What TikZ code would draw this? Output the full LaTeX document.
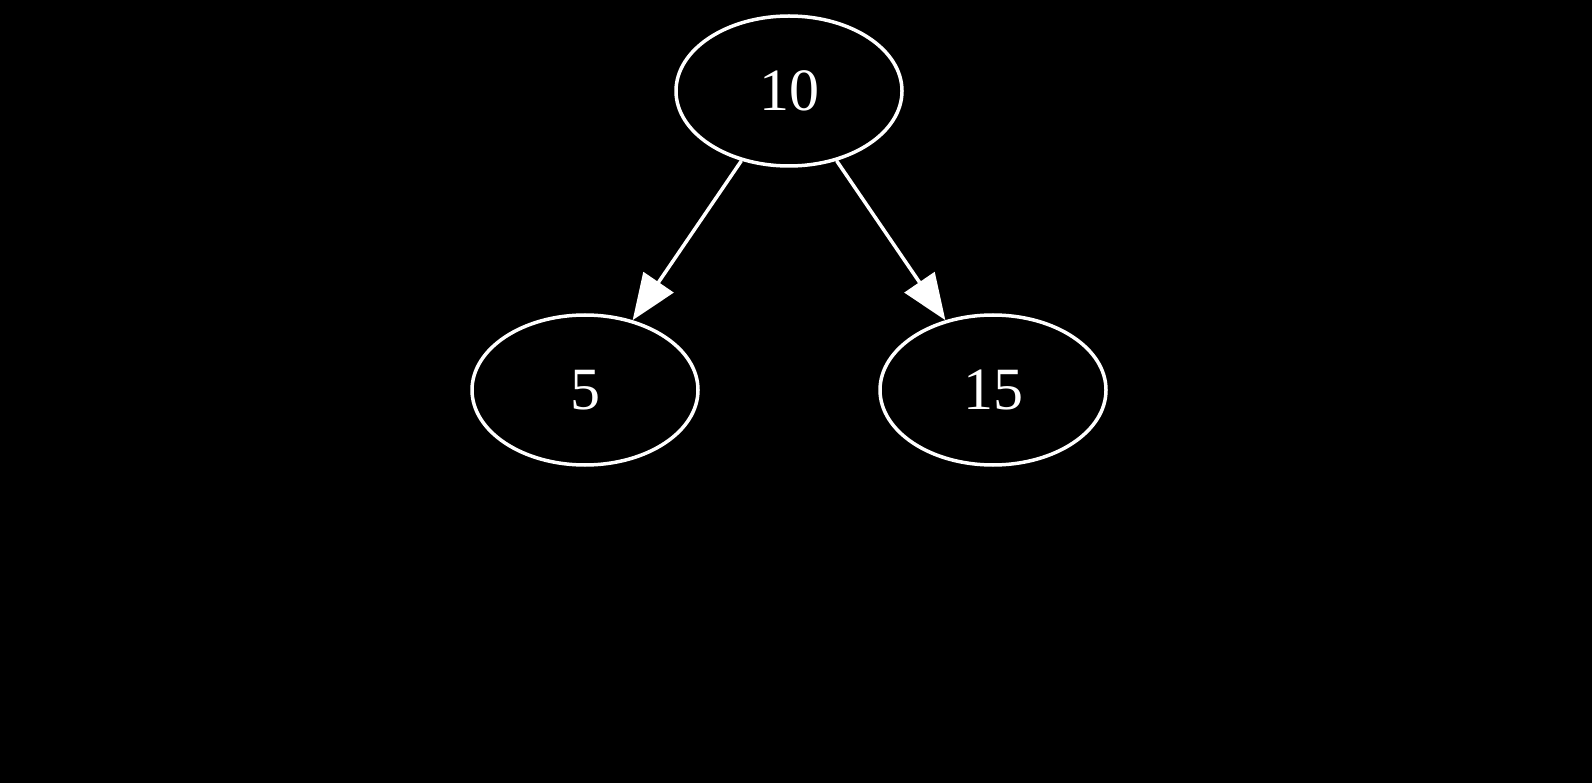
\documentclass[tikz,border=0pt]{standalone}
\usepackage{fontspec}
\setmainfont{Liberation Serif}
\usetikzlibrary{shapes.geometric,arrows.meta}
\begin{document}
\begin{tikzpicture}[x=1pt,y=-1pt,
  treenode/.style={ellipse,draw=white,line width=3.5pt,fill=black,
    minimum width=226pt,minimum height=150pt,inner sep=0pt,
    text=white,font=\fontsize{60}{62}\selectfont},
  treeedge/.style={draw=white,line width=3.5pt,
    -{Triangle[length=46pt,width=36pt,fill=white]}}]
  \fill[black] (0,0) rectangle (1592,783);
  \useasboundingbox (0,0) rectangle (1592,783);
  \node[treenode] (n10) at (789,91) {\raisebox{-3pt}{10}};
  \node[treenode] (n5)  at (585,390) {\raisebox{-3pt}{5}};
  \node[treenode] (n15) at (993,390) {\raisebox{-3pt}{15}};
  \draw[treeedge] (n10) -- (n5);
  \draw[treeedge] (n10) -- (n15);
\end{tikzpicture}
\end{document}
